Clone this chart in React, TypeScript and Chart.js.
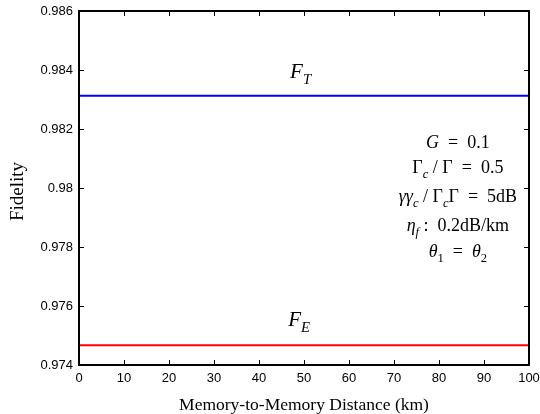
import React, { useEffect, useRef } from "react";
import { Chart, registerables } from "chart.js";

Chart.register(...registerables);

// ---------- data ----------
const distances = [0, 10, 20, 30, 40, 50, 60, 70, 80, 90, 100];
const fidelityT = [0.98313, 0.98313, 0.98313, 0.98313, 0.98313, 0.98313, 0.98313, 0.98313, 0.98313, 0.98313, 0.98313];
const fidelityE = [0.97467, 0.97467, 0.97467, 0.97467, 0.97467, 0.97467, 0.97467, 0.97467, 0.97467, 0.97467, 0.97467];
const xTicks = [0, 10, 20, 30, 40, 50, 60, 70, 80, 90, 100];
const yTicks = [0.974, 0.976, 0.978, 0.98, 0.982, 0.984, 0.986];

const xTitle = "Memory-to-Memory Distance (km)";
const yTitle = "Fidelity";

type Run = { t: string; i?: boolean; sub?: boolean };
type Note = { x: number; y: number; runs: Run[]; size: number; align: "left" | "center" };

const EN = "\u2002";
const notes: Note[] = [
  { x: 46.9, y: 0.98373, size: 21, align: "left", runs: [{ t: "F", i: true }, { t: "T", i: true, sub: true }] },
  { x: 46.5, y: 0.97532, size: 21, align: "left", runs: [{ t: "F", i: true }, { t: "E", i: true, sub: true }] },
  { x: 84.2, y: 0.98136, size: 18, align: "center", runs: [{ t: "G", i: true }, { t: `${EN}=${EN}0.1` }] },
  { x: 84.2, y: 0.98051, size: 18, align: "center", runs: [{ t: "Γ" }, { t: "c", i: true, sub: true }, { t: ` / Γ${EN}=${EN}0.5` }] },
  { x: 84.2, y: 0.97953, size: 18, align: "center", runs: [{ t: "γγ", i: true }, { t: "c", i: true, sub: true }, { t: " / Γ" }, { t: "c", i: true, sub: true }, { t: `Γ${EN}=${EN}5dB` }] },
  { x: 84.2, y: 0.97854, size: 18, align: "center", runs: [{ t: "η", i: true }, { t: "f", i: true, sub: true }, { t: ` :${EN}0.2dB/km` }] },
  { x: 84.2, y: 0.97766, size: 18, align: "center", runs: [{ t: "θ", i: true }, { t: "1", sub: true }, { t: `${EN}=${EN}` }, { t: "θ", i: true }, { t: "2", sub: true }] },
];

const SERIF = "'Liberation Serif', 'Times New Roman', serif";
const SANS = "'Liberation Sans', Arial, Helvetica, sans-serif";

function runFont(r: Run, size: number) {
  const s = r.sub ? size * 0.7 : size;
  return `${r.i ? "italic " : ""}${s}px ${SERIF}`;
}

const framePlugin = {
  id: "framePlugin",
  afterDraw(chart: any) {
    const { ctx, chartArea: a, scales } = chart;
    const xs = scales.x;
    const ys = scales.y;
    ctx.save();
    // ticks (inward, all four sides)
    ctx.strokeStyle = "#000";
    ctx.lineWidth = 1;
    const tl = 5;
    ctx.beginPath();
    xTicks.forEach((v) => {
      const px = Math.round(xs.getPixelForValue(v)) + 0.5;
      ctx.moveTo(px, a.bottom);
      ctx.lineTo(px, a.bottom - tl);
      ctx.moveTo(px, a.top);
      ctx.lineTo(px, a.top + tl);
    });
    yTicks.forEach((v) => {
      const py = Math.round(ys.getPixelForValue(v)) + 0.5;
      ctx.moveTo(a.left, py);
      ctx.lineTo(a.left + tl, py);
      ctx.moveTo(a.right, py);
      ctx.lineTo(a.right - tl, py);
    });
    ctx.stroke();
    // frame
    ctx.lineWidth = 2;
    ctx.strokeRect(a.left, a.top, a.right - a.left, a.bottom - a.top);

    // annotations
    ctx.fillStyle = "#000";
    ctx.textBaseline = "alphabetic";
    ctx.textAlign = "left";
    notes.forEach((n) => {
      let w = 0;
      n.runs.forEach((r) => {
        ctx.font = runFont(r, n.size);
        w += ctx.measureText(r.t).width;
      });
      let x = xs.getPixelForValue(n.x);
      if (n.align === "center") x -= w / 2;
      const y = ys.getPixelForValue(n.y);
      n.runs.forEach((r) => {
        ctx.font = runFont(r, n.size);
        ctx.fillText(r.t, x, r.sub ? y + n.size * 0.28 : y);
        x += ctx.measureText(r.t).width;
      });
    });

    // axis titles
    ctx.font = `17.5px ${SERIF}`;
    ctx.textAlign = "center";
    ctx.fillText(xTitle, (a.left + a.right) / 2, 410);
    ctx.save();
    ctx.translate(23, 191.5);
    ctx.rotate(-Math.PI / 2);
    ctx.font = `19px ${SERIF}`;
    ctx.fillText(yTitle, 0, 0);
    ctx.restore();
    ctx.restore();
  },
};

export default function App() {
  const ref = useRef<HTMLCanvasElement | null>(null);
  useEffect(() => {
    if (!ref.current) return;
    const chart = new Chart(ref.current, {
      type: "line",
      data: {
        labels: distances,
        datasets: [
          { label: "F_T", data: distances.map((d, i) => ({ x: d, y: fidelityT[i] })), borderColor: "#0000ff", borderWidth: 2, pointRadius: 0, tension: 0 },
          { label: "F_E", data: distances.map((d, i) => ({ x: d, y: fidelityE[i] })), borderColor: "#ff0000", borderWidth: 2, pointRadius: 0, tension: 0 },
        ],
      },
      options: {
        animation: false,
        responsive: true,
        maintainAspectRatio: false,
        layout: { padding: { top: 11, right: 11, left: 0, bottom: 0 } },
        plugins: { legend: { display: false }, tooltip: { enabled: false } },
        scales: {
          x: {
            type: "linear",
            min: 0,
            max: 100,
            afterBuildTicks: (s: any) => { s.ticks = xTicks.map((v) => ({ value: v })); },
            afterFit: (s: any) => { s.height = 49; s.paddingLeft = 0; s.paddingRight = 0; },
            grid: { display: false, drawTicks: false },
            border: { display: false },
            ticks: { color: "#000", font: { family: SANS, size: 13 }, padding: 6, maxRotation: 0, autoSkip: false },
          },
          y: {
            type: "linear",
            min: 0.974,
            max: 0.986,
            afterBuildTicks: (s: any) => { s.ticks = yTicks.map((v) => ({ value: v })); },
            afterFit: (s: any) => { s.width = 79; s.paddingTop = 0; s.paddingBottom = 0; },
            grid: { display: false, drawTicks: false },
            border: { display: false },
            ticks: {
              color: "#000",
              font: { family: SANS, size: 13 },
              padding: 6,
              autoSkip: false,
              callback: (v: any) => String(Number(Number(v).toFixed(3))),
            },
          },
        },
      },
      plugins: [framePlugin],
    } as any);
    return () => chart.destroy();
  }, []);
  return (
    <div style={{ position: "fixed", left: 0, top: 0, width: 540, height: 414, background: "#fff" }}>
      <canvas ref={ref} />
    </div>
  );
}
